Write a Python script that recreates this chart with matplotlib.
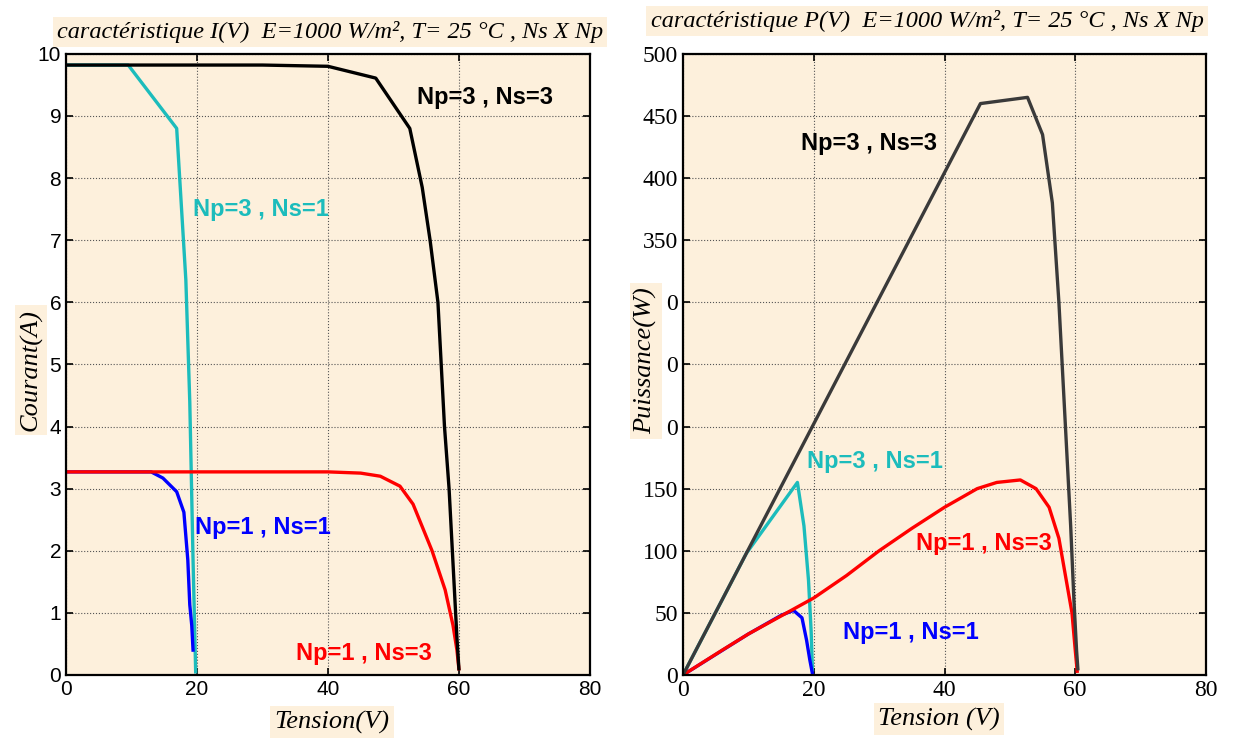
import matplotlib
matplotlib.use("Agg")
import matplotlib.pyplot as plt
from matplotlib.ticker import MultipleLocator, FixedFormatter, FixedLocator

# I(V) curves (V in volts, I in amperes)
v_33 = [0, 30, 40, 47.3, 52.5, 54.4, 55.6, 56.8, 57.3, 57.8, 58.5, 59.0, 59.4, 59.7, 60]
i_33 = [9.82, 9.82, 9.8, 9.61, 8.8, 7.85, 7.0, 6.0, 5.0, 4.0, 3.0, 2.0, 1.2, 0.6, 0.1]

v_31 = [0, 9.5, 16.9, 18.3, 18.9, 19.4, 19.7, 19.8]
i_31 = [9.82, 9.82, 8.8, 6.36, 4.4, 1.85, 0.5, 0.05]

v_13 = [0, 40, 45, 48, 51, 53, 55.9, 57.9, 59.1, 59.7, 60]
i_13 = [3.27, 3.27, 3.25, 3.2, 3.04, 2.75, 2.0, 1.37, 0.8, 0.4, 0.1]

v_11 = [0, 13, 14.8, 16.9, 18.0, 18.6, 18.9, 19.2, 19.4]
i_11 = [3.27, 3.27, 3.17, 2.95, 2.62, 1.85, 1.13, 0.8, 0.4]

# P(V) curves (V in volts, P in watts)
pv_33 = [0, 45.5, 52.7, 55, 56.5, 57.5, 58.5, 59.3, 59.8, 60.2, 60.4]
pw_33 = [0, 460, 465, 435, 380, 300, 200, 120, 60, 20, 5]

pv_31 = [0, 9.7, 17.5, 18.5, 19.2, 19.6, 19.8]
pw_31 = [0, 98, 155, 120, 76, 35, 4]

pv_13 = [0, 6, 10, 20, 25, 30, 35, 40, 45, 48, 51.6, 54, 56, 57.5, 58.5, 59.5, 60, 60.3]
pw_13 = [0, 20, 33, 62, 80, 100, 118, 135, 150, 155, 157, 150, 135, 110, 80, 50, 20, 3]

pv_11 = [0, 10, 15, 16.9, 18.2, 18.9, 19.4, 19.8]
pw_11 = [0, 33, 48, 52, 46, 28, 12, 1]

# P axis tick labels as they show in the picture (200-300 are half hidden by the label)
p_ticks = [0, 50, 100, 150, 200, 250, 300, 350, 400, 450, 500]
p_tick_labels = ["0", "50", "100", "150", "0", "0", "0", "350", "400", "450", "500"]

BG = "#fdf0dc"
CYAN = "#1cbcbc"
DARK = "#3a3a3a"

fig = plt.figure(figsize=(12.34, 7.38), dpi=100)
ax1 = fig.add_axes([0.0535, 0.0854, 0.4245, 0.8416])
ax2 = fig.add_axes([0.5535, 0.0854, 0.4238, 0.8416])


def style_axes(ax, ymax, ystep, font, size):
    ax.set_facecolor(BG)
    ax.set_xlim(0, 80)
    ax.set_ylim(0, ymax)
    ax.xaxis.set_major_locator(MultipleLocator(20))
    ax.yaxis.set_major_locator(MultipleLocator(ystep))
    ax.grid(True, color="#555555", linestyle=":", linewidth=0.8)
    ax.tick_params(direction="in", top=True, right=True, length=5, width=1.2,
                   labelsize=size, labelfontfamily=font)
    for sp in ax.spines.values():
        sp.set_linewidth(1.6)


# left panel: I(V)
ax1.plot(v_31, i_31, color=CYAN, linewidth=2.4)
ax1.plot(v_11, i_11, color="blue", linewidth=2.4)
ax1.plot(v_13, i_13, color="red", linewidth=2.4)
ax1.plot(v_33, i_33, color="black", linewidth=2.4)
style_axes(ax1, 10, 1, "Liberation Sans", 15)

lbl = dict(fontsize=17, fontweight="bold", family="Liberation Sans",
           ha="center", va="center")
ax1.text(64, 9.3, "Np=3 , Ns=3", color="black", **lbl)
ax1.text(29.8, 7.49, "Np=3 , Ns=1", color=CYAN, **lbl)
ax1.text(30, 2.38, "Np=1 , Ns=1", color="blue", **lbl)
ax1.text(45.5, 0.34, "Np=1 , Ns=3", color="red", **lbl)

# right panel: P(V)
ax2.plot(pv_31, pw_31, color=CYAN, linewidth=2.4)
ax2.plot(pv_11, pw_11, color="blue", linewidth=2.4)
ax2.plot(pv_13, pw_13, color="red", linewidth=2.4)
ax2.plot(pv_33, pw_33, color=DARK, linewidth=2.4)
style_axes(ax2, 500, 50, "Liberation Serif", 17)
ax2.yaxis.set_major_locator(FixedLocator(p_ticks))
ax2.yaxis.set_major_formatter(FixedFormatter(p_tick_labels))

ax2.text(28.5, 428, "Np=3 , Ns=3", color="black", **lbl)
ax2.text(29.4, 172, "Np=3 , Ns=1", color=CYAN, **lbl)
ax2.text(46, 106, "Np=1 , Ns=3", color="red", **lbl)
ax2.text(34.8, 34.5, "Np=1 , Ns=1", color="blue", **lbl)

# titles and axis labels in beige boxes
tbox = dict(facecolor=BG, edgecolor="none", pad=3)
ttl = dict(family="Liberation Serif", style="italic", bbox=tbox,
           ha="center", va="center")
fig.text(330 / 1234, 1 - 32 / 738,
         "caractéristique I(V)  E=1000 W/m², T= 25 °C , Ns X Np", fontsize=17.5, **ttl)
fig.text(927 / 1234, 1 - 21 / 738,
         "caractéristique P(V)  E=1000 W/m², T= 25 °C , Ns X Np", fontsize=17.5, **ttl)
fig.text(332 / 1234, 1 - 722 / 738, "Tension(V)", fontsize=19, **ttl)
fig.text(939 / 1234, 1 - 719 / 738, "Tension (V)", fontsize=19, **ttl)
fig.text(31 / 1234, 1 - 370 / 738, "Courant(A)", rotation=90, fontsize=19, **ttl)
fig.text(646 / 1234, 1 - 361 / 738, "Puissance(W)", rotation=90, fontsize=19, **ttl)

fig.savefig("out.png", dpi=100)
